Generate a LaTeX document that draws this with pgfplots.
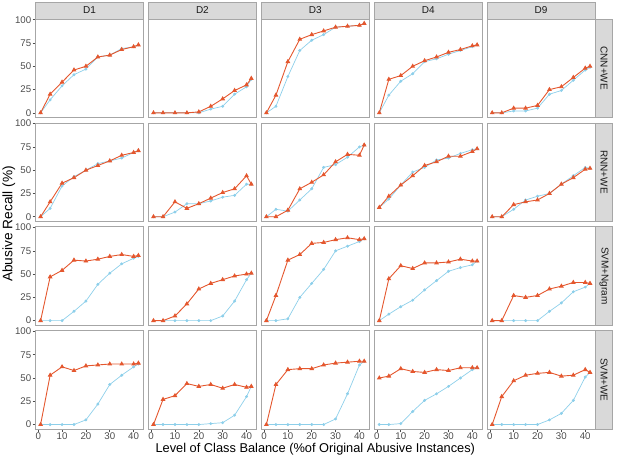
\documentclass[border=0pt]{standalone}
\usepackage{fontspec}
\setmainfont{Liberation Sans}
\usepackage{pgfplots}
\usepackage{pgfplotstable}
\pgfplotsset{compat=1.18}
\definecolor{cred}{HTML}{E4572E}
\definecolor{cblue}{HTML}{8DCFEA}
\definecolor{gframe}{HTML}{A6A6A6}
\definecolor{gstrip}{HTML}{D9D9D9}
\definecolor{gtext}{HTML}{4D4D4D}
\definecolor{gstriptext}{HTML}{1A1A1A}

% rows: x, then red/blue for D1 D2 D3 D4 D9
\pgfplotstableread{
x  d1r d1b d2r d2b d3r d3b d4r d4b d9r d9b
1  0   0   0   0   0   0   0   0   0   0
5  20  14  0   0   19  7   36  19  0   0
10 33  29  0   0   55  39  40  34  5   2
15 46  41  0   0   79  67  50  42  5   2
20 50  47  1   0   84  78  56  55  8   5
25 60  60  7   4   88  84  60  58  25  20
30 62  62  15  7   92  92  65  63  28  24
35 68  69  24  20  93  93  68  67  38  35
40 71  71  30  28  94  94  72  71  48  46
42 73  73  37  36  96  96  73  73  50  49
}\rowA
\pgfplotstableread{
x  d1r d1b d2r d2b d3r d3b d4r d4b d9r d9b
1  0   0   0   0   0   0   10  10  0   0
5  16  9   0   0   0   8   22  19  0   0
10 36  33  16  5   7   6   34  34  13  8
15 42  43  9   14  30  18  44  48  16  18
20 50  50  14  14  37  30  55  53  18  22
25 55  57  20  17  45  53  59  61  25  25
30 60  60  26  21  59  56  65  63  35  35
35 66  63  30  23  67  64  65  68  42  44
40 69  69  44  35  66  75  70  72  51  53
42 71  71  35  35  77  77  73  73  52  52
}\rowB
\pgfplotstableread{
x  d1r d1b d2r d2b d3r d3b d4r d4b d9r d9b
1  0   0   0   0   0   0   0   0   0   0
5  47  0   0   0   27  0   45  7   0   0
10 54  0   5   0   65  2   59  15  27  0
15 65  10  18  0   71  25  56  22  25  0
20 64  21  34  0   83  40  62  33  27  0
25 66  39  40  0   84  55  62  43  34  10
30 69  51  44  5   87  75  63  53  37  19
35 71  61  48  21  89  80  66  57  41  31
40 69  67  50  44  87  85  64  60  41  36
42 70  69  51  51  88  88  64  64  40  40
}\rowC
\pgfplotstableread{
x  d1r d1b d2r d2b d3r d3b d4r d4b d9r d9b
1  0   0   0   0   0   0   50  0   0   0
5  53  0   27  0   43  0   52  0   30  0
10 62  0   31  0   59  0   60  1   47  0
15 58  0   44  0   60  0   57  14  53  0
20 63  5   41  0   60  0   56  26  55  0
25 64  22  43  1   64  0   59  33  56  5
30 65  43  39  2   66  6   58  41  52  12
35 65  53  43  10  67  33  61  50  53  26
40 65  62  40  30  68  64  61  59  59  51
42 66  65  41  41  68  68  61  61  56  56
}\rowD

\pgfplotsset{
  panel/.style={scale only axis, width=107.6pt, height=98.3pt,
    xmin=-1.05, xmax=44.05, ymin=-4.8, ymax=100.8,
    anchor=north west,
    axis line style={gframe, line width=0.7pt},
    xtick=\empty, ytick=\empty,
    tick align=outside, tick pos=left,
    major tick length=3pt,
    every tick/.style={gtext, line width=0.6pt},
    /pgf/number format/assume math mode=true,
    ticklabel style={font=\fontsize{9.7}{9.7}\selectfont, text=gtext},
    xticklabel style={inner sep=1pt},
    yticklabel style={inner sep=1.3pt},
  },
  leftcol/.style={ytick={0,25,50,75,100}},
  bottomrow/.style={xtick={0,10,20,30,40}},
  redline/.style={color=cred, line width=0.9pt, mark=triangle*, mark size=1.9pt, mark options={solid}},
  blueline/.style={color=cblue, line width=0.7pt, mark=*, mark size=1.1pt},
}

\newcommand{\panel}[6]{%
  \begin{axis}[panel, at={(#1pt,-#2pt)}, #3]
    \addplot[blueline] table[x=x, y=#6b] {#4};
    \addplot[redline] table[x=x, y=#6r] {#4};
  \end{axis}}

\begin{document}
\begin{tikzpicture}[x=1pt,y=1pt]
% row 1
\panel{35.7}{19}{leftcol}{\rowA}{}{d1}
\panel{148.6}{19}{}{\rowA}{}{d2}
\panel{261.5}{19}{}{\rowA}{}{d3}
\panel{374.4}{19}{}{\rowA}{}{d4}
\panel{487.3}{19}{}{\rowA}{}{d9}
% row 2
\panel{35.7}{122.9}{leftcol}{\rowB}{}{d1}
\panel{148.6}{122.9}{}{\rowB}{}{d2}
\panel{261.5}{122.9}{}{\rowB}{}{d3}
\panel{374.4}{122.9}{}{\rowB}{}{d4}
\panel{487.3}{122.9}{}{\rowB}{}{d9}
% row 3
\panel{35.7}{226.8}{leftcol}{\rowC}{}{d1}
\panel{148.6}{226.8}{}{\rowC}{}{d2}
\panel{261.5}{226.8}{}{\rowC}{}{d3}
\panel{374.4}{226.8}{}{\rowC}{}{d4}
\panel{487.3}{226.8}{}{\rowC}{}{d9}
% row 4
\panel{35.7}{330.7}{leftcol,bottomrow}{\rowD}{}{d1}
\panel{148.6}{330.7}{bottomrow}{\rowD}{}{d2}
\panel{261.5}{330.7}{bottomrow}{\rowD}{}{d3}
\panel{374.4}{330.7}{bottomrow}{\rowD}{}{d4}
\panel{487.3}{330.7}{bottomrow}{\rowD}{}{d9}

% top strips
\foreach \xx/\lab in {35.7/D1, 148.6/D2, 261.5/D3, 374.4/D4, 487.3/D9}{
  \draw[gframe, fill=gstrip, line width=0.7pt] (\xx,-19) rectangle (\xx+107.6,-2);
  \node[text=gstriptext, font=\fontsize{10}{10}\selectfont] at (\xx+53.8,-10.5) {\lab};
}
% right strips
\foreach \yy/\lab in {19/CNN+WE, 122.9/RNN+WE, 226.8/SVM+Ngram, 330.7/SVM+WE}{
  \draw[gframe, fill=gstrip, line width=0.7pt] (595.6,-\yy) rectangle (612.6,-\yy-98.3);
  \node[text=gstriptext, font=\fontsize{10}{10}\selectfont, rotate=-90] at (604.1,-\yy-49.15) {\lab};
}
% axis titles
\node[anchor=base, font=\fontsize{12.8}{13}\selectfont, text=black, inner sep=0pt] at (315.3,-452.2) {Level of Class Balance (\%of Original Abusive Instances)};
\node[anchor=base, rotate=90, font=\fontsize{13.7}{14}\selectfont, text=black] at (12.3,-224) {Abusive Recall (\%)};

\pgfresetboundingbox
\useasboundingbox (0,0) rectangle (617,-455);
\end{tikzpicture}
\end{document}
